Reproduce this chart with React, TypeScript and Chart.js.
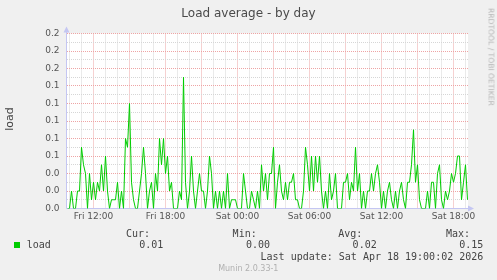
import React, { useEffect, useRef } from 'react';
import { Chart, registerables } from 'chart.js';

Chart.register(...registerables);

// time in minutes counted from Fri 00:00
const startMinute = 590; // Fri 09:50
const stepMinutes = 10;
const loads = [
  0, 0, 0.02, 0, 0, 0.02, 0.02, 0.07, 0.05, 0.04,
  0, 0.04, 0.01, 0.03, 0.01, 0.03, 0.02, 0.05, 0.02, 0.06,
  0.02, 0, 0.01, 0.01, 0.01, 0.03, 0, 0.02, 0, 0.08,
  0.07, 0.12, 0.03, 0.01, 0, 0, 0.02, 0.04, 0.07, 0.04,
  0, 0.02, 0.03, 0, 0.04, 0.02, 0.08, 0.05, 0.08, 0.04,
  0.06, 0.02, 0.03, 0, 0, 0, 0.02, 0.01, 0.15, 0.03,
  0, 0.02, 0.06, 0.02, 0, 0.02, 0.04, 0.02, 0.02, 0,
  0.02, 0.06, 0.04, 0, 0.02, 0, 0.02, 0, 0.02, 0,
  0.04, 0, 0.01, 0.01, 0.01, 0, 0, 0, 0.04, 0.02,
  0, 0, 0.02, 0.01, 0, 0.02, 0, 0.05, 0.02, 0.04,
  0.01, 0.04, 0.04, 0.07, 0, 0.03, 0.05, 0.02, 0.01, 0.03,
  0.01, 0.03, 0.03, 0.04, 0.01, 0.01, 0, 0, 0.02, 0.07,
  0.05, 0.02, 0.06, 0.02, 0.06, 0.03, 0.06, 0.02, 0, 0.02,
  0, 0.04, 0.01, 0.02, 0.04, 0, 0, 0, 0.03, 0.03,
  0.04, 0.01, 0.03, 0.02, 0.07, 0.02, 0.04, 0, 0.02, 0,
  0.02, 0.02, 0.04, 0.02, 0.04, 0.05, 0.03, 0, 0.02, 0,
  0.02, 0.03, 0.01, 0, 0.02, 0, 0.02, 0.03, 0.01, 0,
  0.03, 0.03, 0.05, 0.09, 0.03, 0.05, 0.01, 0, 0, 0,
  0.02, 0, 0.03, 0.03, 0, 0.04, 0.05, 0.01, 0, 0.02,
  0.01, 0.02, 0.04, 0.03, 0.04, 0.06, 0.06, 0.01, 0.03, 0.05,
  0.01,
];

const xMin = 585;
const xMax = 2592.5;
const xGridMinutes = [
  600, 660, 720, 780, 840, 900, 960, 1020, 1080, 1140, 1200, 1260, 1320, 1380,
  1440, 1500, 1560, 1620, 1680, 1740, 1800, 1860, 1920, 1980, 2040, 2100, 2160,
  2220, 2280, 2340, 2400, 2460, 2520, 2580,
];
const xLabelMinutes = [720, 1080, 1440, 1800, 2160, 2520];
const xLabels = ['Fri 12:00', 'Fri 18:00', 'Sat 00:00', 'Sat 06:00', 'Sat 12:00', 'Sat 18:00'];

const yGridValues = [
  0, 0.01, 0.02, 0.03, 0.04, 0.05, 0.06, 0.07, 0.08, 0.09, 0.1,
  0.11, 0.12, 0.13, 0.14, 0.15, 0.16, 0.17, 0.18, 0.19, 0.2,
];
const yLabelValues = [0, 0.02, 0.04, 0.06, 0.08, 0.1, 0.12, 0.14, 0.16, 0.18, 0.2];
const yLabels = ['0.0', '0.0', '0.0', '0.1', '0.1', '0.1', '0.1', '0.1', '0.2', '0.2', '0.2'];

const legendHeaders = ['Cur:', 'Min:', 'Avg:', 'Max:'];
const legendValues = ['0.01', '0.00', '0.02', '0.15'];
const headerRights = [150, 256.7, 362.3, 470];
const valueRights = [163.3, 270, 376.7, 483.3];

const W = 497;
const H = 280;
const MINOR = '#d6d6d6';
const MAJOR = '#eea4a4';
const AXIS = '#c4c6f2';

const decorPlugin = {
  id: 'decor',
  beforeDraw(chart: any) {
    const { ctx, chartArea: a } = chart;
    ctx.save();
    ctx.fillStyle = '#ffffff';
    ctx.fillRect(a.left, a.top, a.right - a.left, a.bottom - a.top);
    ctx.restore();
  },
  beforeDatasetsDraw(chart: any) {
    const { ctx, chartArea: a } = chart;
    const lx = a.left;
    const by = a.bottom;
    ctx.save();
    ctx.strokeStyle = AXIS;
    ctx.fillStyle = AXIS;
    ctx.lineWidth = 1;
    ctx.beginPath();
    ctx.moveTo(lx, by);
    ctx.lineTo(lx, a.top - 4);
    ctx.moveTo(lx, by);
    ctx.lineTo(a.right + 2, by);
    ctx.stroke();
    ctx.beginPath();
    ctx.moveTo(lx - 3, a.top - 1);
    ctx.lineTo(lx + 3, a.top - 1);
    ctx.lineTo(lx, a.top - 7);
    ctx.closePath();
    ctx.fill();
    ctx.beginPath();
    ctx.moveTo(a.right, by - 3);
    ctx.lineTo(a.right, by + 3);
    ctx.lineTo(a.right + 6, by);
    ctx.closePath();
    ctx.fill();
    ctx.restore();
  },
};

function App() {
  const ref = useRef<HTMLCanvasElement | null>(null);

  useEffect(() => {
    if (!ref.current) return;
    const points = loads.map((v, i) => ({ x: startMinute + i * stepMinutes, y: v }));
    const chart = new Chart(ref.current, {
      type: 'line',
      data: {
        datasets: [
          {
            label: 'load',
            data: points,
            borderColor: '#00cc00',
            backgroundColor: '#00cc00',
            borderWidth: 1,
            pointRadius: 0,
            tension: 0,
            fill: false,
          },
        ],
      },
      options: {
        animation: false,
        responsive: false,
        devicePixelRatio: 1,
        parsing: false,
        normalized: true,
        layout: { padding: { left: 0, right: 29, top: 33.5, bottom: 51.5 } },
        plugins: { legend: { display: false }, title: { display: false }, tooltip: { enabled: false } },
        scales: {
          x: {
            type: 'linear',
            min: xMin,
            max: xMax,
            afterBuildTicks: (scale: any) => {
              scale.ticks = xGridMinutes.map((v) => ({ value: v }));
            },
            afterFit: (scale: any) => {
              scale.height = 20;
            },
            ticks: {
              autoSkip: false,
              maxRotation: 0,
              padding: 3,
              color: '#555555',
              font: { family: 'DejaVu Sans', size: 9 },
              callback: (value: any) => {
                const i = xLabelMinutes.indexOf(Number(value));
                return i >= 0 ? xLabels[i] : '';
              },
            },
            grid: {
              drawTicks: false,
              lineWidth: 1,
              color: (c: any) => (c.tick && c.tick.value % 180 === 0 ? MAJOR : MINOR),
            },
            border: { display: false, dash: [1, 1] },
          },
          y: {
            type: 'linear',
            min: 0,
            max: 0.2,
            afterBuildTicks: (scale: any) => {
              scale.ticks = yGridValues.map((v) => ({ value: v }));
            },
            afterFit: (scale: any) => {
              scale.width = 66.5;
            },
            ticks: {
              autoSkip: false,
              padding: 7,
              color: '#555555',
              font: { family: 'DejaVu Sans', size: 9 },
              callback: (value: any) => {
                const v = Number(value);
                const i = yLabelValues.findIndex((t) => Math.abs(t - v) < 1e-6);
                return i >= 0 ? yLabels[i] : '';
              },
            },
            grid: {
              drawTicks: false,
              lineWidth: 1,
              color: (c: any) =>
                c.tick && yLabelValues.some((t) => Math.abs(t - c.tick.value) < 1e-6) ? MAJOR : MINOR,
            },
            border: { display: false, dash: [1, 1] },
          },
        },
      },
      plugins: [decorPlugin],
    } as any);
    return () => chart.destroy();
  }, []);

  const mono: React.CSSProperties = {
    position: 'absolute',
    fontFamily: '"DejaVu Sans Mono", monospace',
    fontSize: 10,
    lineHeight: '12px',
    color: '#444',
    whiteSpace: 'pre',
  };

  return (
    <div
      style={{
        position: 'fixed',
        left: 0,
        top: 0,
        width: W,
        height: H,
        background: '#f0f0f0',
        overflow: 'hidden',
      }}
    >
      <canvas ref={ref} width={W} height={H} style={{ position: 'absolute', left: 0, top: 0, width: W, height: H }} />
      <div
        style={{
          position: 'absolute',
          left: 0,
          top: 6,
          width: W,
          textAlign: 'center',
          fontFamily: '"DejaVu Sans", sans-serif',
          fontSize: 12,
          lineHeight: '14px',
          color: '#4a4a4a',
        }}
      >
        Load average - by day
      </div>
      <div
        style={{
          position: 'absolute',
          left: 10,
          top: 119,
          transform: 'translate(-50%, -50%) rotate(-90deg)',
          fontFamily: '"DejaVu Sans", sans-serif',
          fontSize: 11,
          lineHeight: '12px',
          color: '#444',
          whiteSpace: 'nowrap',
        }}
      >
        load
      </div>
      <div
        style={{
          position: 'absolute',
          left: 490.5,
          top: 57,
          transform: 'translate(-50%, -50%) rotate(90deg)',
          fontFamily: '"DejaVu Sans", sans-serif',
          fontSize: 7.6,
          lineHeight: '9px',
          color: '#b4b4b4',
          whiteSpace: 'nowrap',
        }}
      >
        RRDTOOL / TOBI OETIKER
      </div>
      <div style={{ position: 'absolute', left: 14, top: 242, width: 6, height: 6, background: '#00cc00' }} />
      <div style={{ ...mono, left: 26.7, top: 239.3 }}>load</div>
      {legendHeaders.map((h, i) => (
        <div key={'h' + i} style={{ ...mono, right: W - headerRights[i], top: 228 }}>
          {h}
        </div>
      ))}
      {legendValues.map((v, i) => (
        <div key={'v' + i} style={{ ...mono, right: W - valueRights[i], top: 239.3 }}>
          {v}
        </div>
      ))}
      <div style={{ ...mono, right: W - 483.3, top: 251.3 }}>Last update: Sat Apr 18 19:00:02 2026</div>
      <div
        style={{
          position: 'absolute',
          left: 0,
          width: 496.6,
          top: 264.3,
          textAlign: 'center',
          fontFamily: '"DejaVu Sans", sans-serif',
          fontSize: 8,
          lineHeight: '10px',
          color: '#b0b0b0',
        }}
      >
        Munin 2.0.33-1
      </div>
    </div>
  );
}

export default App;
